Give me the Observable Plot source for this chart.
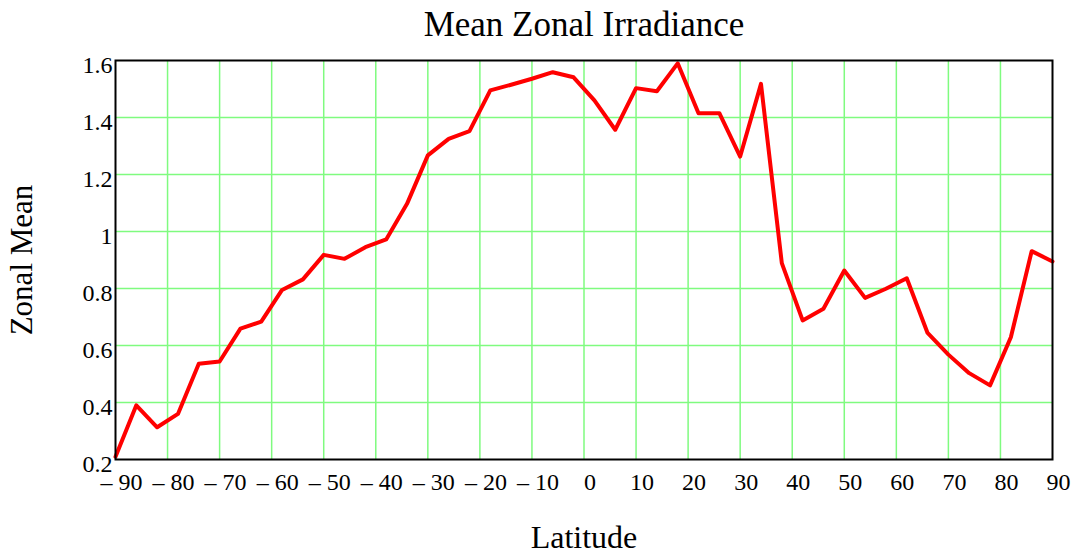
<!DOCTYPE html>
<html><head><meta charset="utf-8">
<script src="https://cdn.jsdelivr.net/npm/d3@7"></script>
<script src="https://cdn.jsdelivr.net/npm/@observablehq/plot@0.6"></script>
<style>body{margin:0;background:#fff;} svg{display:block}</style>
</head><body><div id="chart"></div>
<script>
const latitude = [-90,-86,-82,-78,-74,-70,-66,-62,-58,-54,-50,-46,-42,-38,-34,-30,-26,-22,-18,-14,-10,-6,-2,2,6,10,14,18,22,26,30,34,38,42,46,50,54,58,62,66,70,74,78,82,86,90];
const zonalMean = [0.21,0.39,0.313,0.36,0.536,0.544,0.659,0.684,0.795,0.832,0.918,0.904,0.945,0.972,1.097,1.267,1.325,1.352,1.495,1.515,1.536,1.559,1.541,1.46,1.357,1.503,1.492,1.59,1.415,1.415,1.263,1.518,0.889,0.688,0.729,0.863,0.767,0.799,0.836,0.644,0.568,0.503,0.46,0.629,0.931,0.895];
const xTicks = [-90,-80,-70,-60,-50,-40,-30,-20,-10,0,10,20,30,40,50,60,70,80,90];
const xGrid = [-80,-70,-60,-50,-40,-30,-20,-10,0,10,20,30,40,50,60,70,80];
const yTicks = [0.2,0.4,0.6,0.8,1.0,1.2,1.4,1.6];
const yTickLabels = ["0.2","0.4","0.6","0.8","1","1.2","1.4","1.6"];
const yGrid = [0.4,0.6,0.8,1.0,1.2,1.4];
const title = "Mean Zonal Irradiance";
const xLabel = "Latitude";
const yLabel = "Zonal Mean";

const data = latitude.map((lat, i) => ({lat, mean: zonalMean[i]}));
const gridColor = "#7ffb7f";

const chart = Plot.plot({
  width: 1075, height: 554,
  marginLeft: 115, marginRight: 23, marginTop: 60, marginBottom: 95,
  style: {fontFamily: "'Liberation Serif', 'Times New Roman', serif", fontSize: "24px", color: "#000", background: "#fff"},
  x: {domain: [-90, 90]},
  y: {domain: [0.2, 1.6]},
  marks: [
    Plot.gridX(xGrid, {stroke: gridColor, strokeOpacity: 1, strokeWidth: 1.5}),
    Plot.gridY(yGrid, {stroke: gridColor, strokeOpacity: 1, strokeWidth: 1.5}),
    Plot.line(data, {x: "lat", y: "mean", stroke: "#ff0000", strokeWidth: 4}),
    Plot.frame({stroke: "#000", strokeWidth: 2}),
    Plot.axisX(xTicks, {tickSize: 0, tickPadding: 13, dx: 6, label: null, fontSize: 24,
      tickFormat: d => d < 0 ? "\u2013 " + (-d) : String(d)}),
    Plot.axisY(yTicks, {tickSize: 0, tickPadding: 3, dy: 5, label: null, fontSize: 24,
      tickFormat: d => yTickLabels[yTicks.indexOf(d)]}),
    Plot.text([title], {text: d => d, frameAnchor: "top", textAnchor: "middle", lineAnchor: "middle", dy: -36, fontSize: 35}),
    Plot.text([xLabel], {text: d => d, frameAnchor: "bottom", textAnchor: "middle", lineAnchor: "middle", dy: 78, fontSize: 32}),
    Plot.text([yLabel], {text: d => d, frameAnchor: "left", textAnchor: "middle", lineAnchor: "middle", dx: -93, rotate: -90, fontSize: 31})
  ]
});
document.getElementById("chart").append(chart);
</script>
</body></html>
